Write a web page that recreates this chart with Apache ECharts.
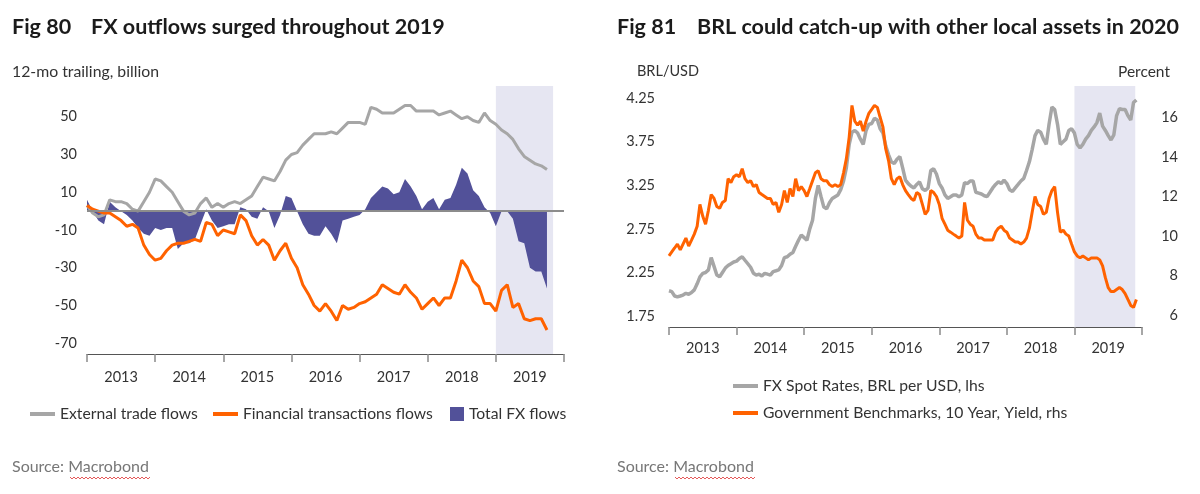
<!DOCTYPE html>
<html>
<head>
<meta charset="utf-8">
<script src="https://cdn.jsdelivr.net/npm/echarts@6/dist/echarts.min.js"></script>
<style>html,body{margin:0;padding:0;background:#fff}#main{width:1200px;height:494px}</style>
</head>
<body>
<div id="main"></div>
<script>
// ---------- Fig 80 data (monthly, from Jan 2013) ----------
const flowStart = [2013, 1];
const tradeFlows = [3,-1,-3,-2,6,5,5,4,1,0,5,10,
  17,16,13,10,5,0,-2,-1,4,7,2,4,
  2,4,5,4,6,8,13,18,17,16,21,27,
  30,31,35,38,41,41,41,42,41,44,47,47,
  47,46,55,54,52,52,52,54,56,56,53,53,
  53,53,51,52,53,51,49,50,48,47,52,48,
  46,43,41,38,33,29,27,25,24,22];
const financialFlows = [3,1,0,-1,-1,-3,-5,-8,-7,-9,-18,-23,
  -26,-25,-21,-18,-17,-17,-16,-15,-16,-6,-7,-13,
  -10,-11,-12,-2,-5,-13,-18,-15,-18,-26,-21,-17,
  -25,-30,-39,-44,-50,-53,-49,-53,-58,-50,-52,-51,
  -49,-48,-46,-44,-39,-41,-43,-44,-39,-43,-46,-52,
  -49,-46,-50,-46,-46,-37,-26,-30,-37,-40,-49,-49,
  -53,-42,-39,-51,-49,-57,-58,-57,-57,-63];
const totalFlows = [6,0,-5,-7,5,2,0,-2,-5,-9,-12,-13,
  -9,-10,-9,-9,-20,-17,-17,-15,-7,1,-5,-9,
  -8,-7,-7,2,1,-3,-4,2,0,-9,-2,8,
  7,0,-7,-12,-13,-13,-8,-12,-17,-5,-4,-3,
  -2,1,7,10,13,12,9,10,17,13,8,1,
  5,7,1,6,7,14,23,20,11,8,2,-1,
  -8,0,0,-4,-16,-17,-30,-32,-32,-41];
const flowTicks = [-70,-50,-30,-10,10,30,50];

// ---------- Fig 81 data (twice monthly, from Jan 2013) ----------
const brlStart = [2013, 1];
const brlPerUsd = [2.04,2.03,1.98,1.97,1.98,1.99,2.01,2.00,2.02,2.05,2.12,2.20,2.24,2.25,2.28,2.42,2.32,2.22,2.20,2.25,2.30,2.33,2.35,2.37,
  2.38,2.41,2.43,2.39,2.35,2.31,2.24,2.22,2.23,2.21,2.24,2.23,2.22,2.26,2.27,2.28,2.33,2.42,2.43,2.46,2.48,2.55,2.62,2.68,
  2.65,2.62,2.75,2.85,3.10,3.25,3.12,3.00,2.98,3.05,3.10,3.12,3.14,3.20,3.30,3.45,3.72,3.86,3.88,3.85,3.78,3.72,3.88,3.95,
  3.96,4.02,4.00,3.90,3.85,3.70,3.60,3.52,3.50,3.55,3.58,3.45,3.31,3.27,3.24,3.22,3.26,3.29,3.21,3.19,3.22,3.42,3.44,3.38,
  3.27,3.22,3.14,3.10,3.12,3.14,3.14,3.12,3.14,3.28,3.27,3.30,3.30,3.17,3.16,3.15,3.13,3.12,3.17,3.22,3.26,3.29,3.27,3.31,
  3.27,3.20,3.18,3.22,3.26,3.30,3.33,3.42,3.52,3.66,3.82,3.88,3.86,3.78,3.72,3.95,4.15,4.12,3.95,3.72,3.75,3.78,3.88,3.90,
  3.85,3.72,3.68,3.72,3.78,3.82,3.88,3.92,3.97,4.08,3.93,3.88,3.82,3.77,3.83,4.05,4.13,4.12,4.12,4.05,4.00,4.20,4.23];
const bondYield = [9.0,9.2,9.4,9.6,9.3,9.6,9.9,9.5,9.8,10.1,10.5,11.6,11.0,10.6,11.3,12.1,11.9,11.5,11.4,11.7,11.8,12.9,12.7,13.0,
  13.1,13.0,13.4,12.9,12.7,12.8,12.5,12.6,12.2,12.1,12.0,11.9,11.9,11.6,11.7,11.2,11.6,12.3,11.7,12.4,12.0,12.9,12.3,12.5,
  12.3,12.0,12.4,12.8,13.2,13.3,12.9,12.8,12.8,12.6,12.5,12.6,12.5,12.6,13.2,13.9,15.0,16.6,15.8,15.6,15.8,15.3,15.8,16.2,
  16.4,16.6,16.5,16.0,15.5,14.4,13.8,12.9,12.6,12.9,13.0,12.6,12.3,12.1,11.9,11.8,12.2,12.1,11.6,11.1,11.3,12.3,12.2,12.0,
  11.6,10.9,10.6,10.3,10.2,10.1,10.0,9.9,10.0,11.7,10.8,10.6,10.5,10.1,9.9,9.9,9.8,9.8,9.8,9.8,10.2,10.4,10.5,10.3,
  10.2,9.9,9.8,9.7,9.7,9.6,9.7,9.9,10.4,11.2,12.0,11.6,11.5,11.1,11.2,11.9,12.3,12.5,11.2,10.2,10.3,10.1,10.0,9.6,
  9.2,9.0,8.9,9.0,8.9,8.8,8.9,8.9,8.9,8.8,8.5,7.9,7.4,7.2,7.2,7.3,7.4,7.3,7.1,6.8,6.5,6.4,6.8];
const brlTicks = [1.75,2.25,2.75,3.25,3.75,4.25];
const yieldTicks = [6,8,10,12,14,16];

const years = [2013,2014,2015,2016,2017,2018,2019];
const shadeFlows = [2019.0, 2019.84];
const shadeBrl = [2019.0, 2019.90];

// ---------- helpers: dates -> decimal years ----------
const monthX = (start, i) => start[0] + (start[1]-1+i)/12;
const halfMonthX = (start, i) => start[0] + (start[1]-1)/12 + Math.floor(i/2)/12 + (i%2 ? 15/365 : 0);
const pairsM = arr => arr.map((v,i)=>[monthX(flowStart,i), v]);
const pairsH = arr => arr.map((v,i)=>[halfMonthX(brlStart,i), v]);
const yearStarts = years.concat([2020]);
const yearMids = years.map(y=>y+0.5);

const FONT = 'Lato';
const GRAY = '#a6a6a6', ORANGE = '#ff6200', BLUE = '#525199', BAND = '#e6e6f2';
const txt = (text, left, top, size, weight, color) => ({text, left, top, padding:0, textStyle:{fontFamily:FONT,fontSize:size,fontWeight:weight,color}});

function xAxisCfg(grid, margin) {
  return {
    type:'value', gridIndex:grid, min:2013, max:2020, interval:1,
    axisLine:{show:true, onZero:false, lineStyle:{color:'#555', width:1}},
    axisTick:{show:true, length:8, customValues:yearStarts, lineStyle:{color:'#8a8a8a', width:1.5}},
    axisLabel:{customValues:yearMids, margin, fontFamily:FONT, fontSize:14.5, color:'#333',
      formatter:v=>String(Math.floor(v))},
    splitLine:{show:false}
  };
}
const legendText = {fontFamily:FONT,fontSize:15.7,color:'#333'};
const lg = (left, top, name, w, h) => ({left, top, padding:0, itemGap:0, icon:'rect', itemWidth:w, itemHeight:h, data:[name], textStyle:legendText});

const chart = echarts.init(document.getElementById('main'), null, {renderer:'canvas'});
chart.setOption({
  animation:false,
  backgroundColor:'#fff',
  title:[
    txt('Fig 80', 12, 16, 21.5, 'bold', '#1b1b1b'),
    txt('FX outflows surged throughout 2019', 91, 16, 21.5, 'bold', '#1b1b1b'),
    txt('12-mo trailing, billion', 12, 64, 15.8, 'normal', '#333'),
    txt('Fig 81', 617, 16, 21.5, 'bold', '#1b1b1b'),
    txt('BRL could catch-up with other local assets in 2020', 697, 16, 21.5, 'bold', '#1b1b1b'),
    txt('BRL/USD', 637, 64, 14.5, 'normal', '#333'),
    txt('Percent', 1118, 64, 15.5, 'normal', '#333'),
    txt('Source: Macrobond', 12, 459, 16, 'normal', '#777'),
    txt('Source: Macrobond', 617, 459, 16, 'normal', '#777')
  ],
  legend:[
    lg(30, 406, 'External trade flows', 25, 4),
    lg(213, 406, 'Financial transactions flows', 25, 4),
    lg(450, 406, 'Total FX flows', 14, 14),
    lg(733, 378, 'FX Spot Rates, BRL per USD, lhs', 25, 4),
    lg(733, 405, 'Government Benchmarks, 10 Year, Yield, rhs', 25, 4)
  ],
  grid:[
    {left:87, top:86, width:477, height:268},
    {left:669, top:86, width:473, height:241}
  ],
  xAxis:[ xAxisCfg(0, 16), xAxisCfg(1, 14) ],
  yAxis:[
    {type:'value', gridIndex:0, min:-75.7, max:66.3, axisLine:{show:false}, axisTick:{show:false}, splitLine:{show:false},
      axisLabel:{customValues:flowTicks, margin:10, fontFamily:FONT, fontSize:14.5, color:'#333'}},
    {type:'value', gridIndex:1, min:1.624, max:4.39, axisLine:{show:false}, axisTick:{show:false}, splitLine:{show:false},
      axisLabel:{customValues:brlTicks, margin:14, fontFamily:FONT, fontSize:14.5, color:'#333', formatter:v=>v.toFixed(2)}},
    {type:'value', gridIndex:1, position:'right', min:5.41, max:17.58, axisLine:{show:false}, axisTick:{show:false}, splitLine:{show:false},
      axisLabel:{customValues:yieldTicks, margin:36, align:'right', fontFamily:FONT, fontSize:14.5, color:'#333'}}
  ],
  graphic:[
    {type:'polyline', silent:true, shape:{points:[[70,477],[72,479],[74,477],[76,479],[78,477],[80,479],[82,477],[84,479],[86,477],[88,479],[90,477],[92,479],[94,477],[96,479],[98,477],[100,479],[102,477],[104,479],[106,477],[108,479],[110,477],[112,479],[114,477],[116,479],[118,477],[120,479],[122,477],[124,479],[126,477],[128,479],[130,477],[132,479],[134,477],[136,479],[138,477],[140,479],[142,477],[144,479],[146,477],[148,479],[150,477]]}, style:{stroke:'#e03030', lineWidth:0.8, fill:null}},
    {type:'polyline', silent:true, shape:{points:[[675,477],[677,479],[679,477],[681,479],[683,477],[685,479],[687,477],[689,479],[691,477],[693,479],[695,477],[697,479],[699,477],[701,479],[703,477],[705,479],[707,477],[709,479],[711,477],[713,479],[715,477],[717,479],[719,477],[721,479],[723,477],[725,479],[727,477],[729,479],[731,477],[733,479],[735,477],[737,479],[739,477],[741,479],[743,477],[745,479],[747,477],[749,479],[751,477],[753,479],[755,477]]}, style:{stroke:'#e03030', lineWidth:0.8, fill:null}}
  ],
  series:[
    {type:'line', name:'band1', xAxisIndex:0, yAxisIndex:0, data:[], z:0, silent:true,
      markArea:{silent:true, itemStyle:{color:BAND}, data:[[{xAxis:shadeFlows[0]},{xAxis:shadeFlows[1]}]]}},
    {type:'line', name:'Total FX flows', xAxisIndex:0, yAxisIndex:0, data:pairsM(totalFlows), z:1,
      showSymbol:false, color:BLUE, lineStyle:{width:0}, areaStyle:{color:BLUE, opacity:1}},
    {type:'line', name:'zero', xAxisIndex:0, yAxisIndex:0, data:[], z:2, silent:true,
      markLine:{silent:true, symbol:'none', label:{show:false}, lineStyle:{color:'#8c8c8c', width:2, type:'solid'}, data:[{yAxis:0}]}},
    {type:'line', name:'External trade flows', xAxisIndex:0, yAxisIndex:0, data:pairsM(tradeFlows), z:3,
      showSymbol:false, color:GRAY, lineStyle:{width:3, color:GRAY}},
    {type:'line', name:'Financial transactions flows', xAxisIndex:0, yAxisIndex:0, data:pairsM(financialFlows), z:4,
      showSymbol:false, color:ORANGE, lineStyle:{width:3, color:ORANGE}},
    {type:'line', name:'band2', xAxisIndex:1, yAxisIndex:1, data:[], z:0, silent:true,
      markArea:{silent:true, itemStyle:{color:BAND}, data:[[{xAxis:shadeBrl[0]},{xAxis:shadeBrl[1]}]]}},
    {type:'line', name:'FX Spot Rates, BRL per USD, lhs', xAxisIndex:1, yAxisIndex:1, data:pairsH(brlPerUsd), z:3,
      showSymbol:false, color:GRAY, lineStyle:{width:3.5, color:GRAY}},
    {type:'line', name:'Government Benchmarks, 10 Year, Yield, rhs', xAxisIndex:1, yAxisIndex:2, data:pairsH(bondYield), z:4,
      showSymbol:false, color:ORANGE, lineStyle:{width:3, color:ORANGE}}
  ]
});
</script>
</body>
</html>
